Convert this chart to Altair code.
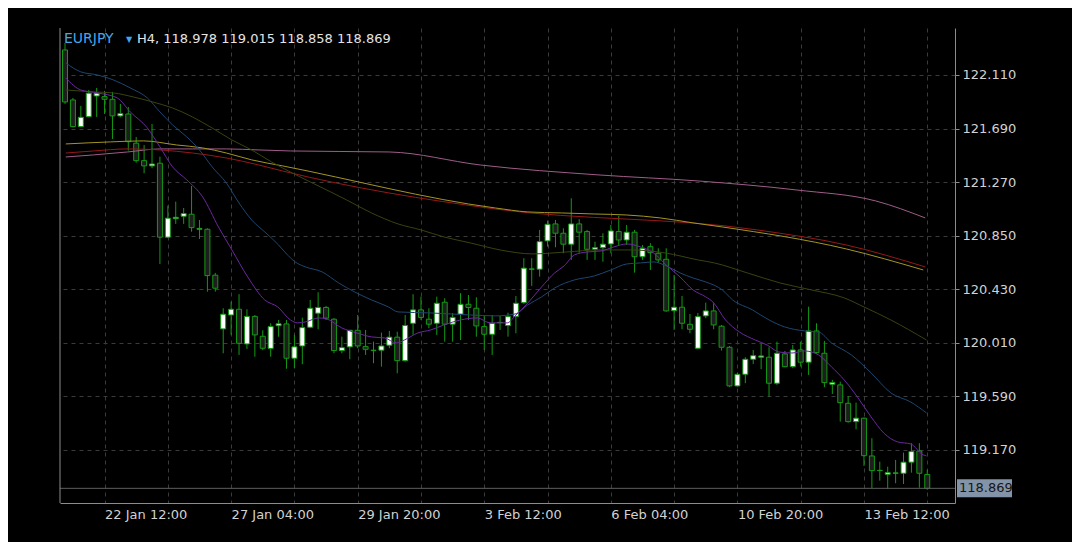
import altair as alt
import pandas as pd

# ---------------- data ----------------
symbol = "EURJPY"
timeframe = "H4"

bar_index = list(range(-5, 105))

opens = [
    122.306, 121.914, 121.705, 121.783, 121.945, 121.940, 121.919, 121.789, 121.804, 121.575,
    121.438, 121.397, 121.418, 120.838, 120.983, 121.002, 121.018, 120.900, 120.900, 120.540,
    120.119, 120.228, 120.273, 120.001, 120.217, 120.061, 119.966, 120.144, 120.158, 119.889,
    119.985, 120.132, 120.242, 120.287, 120.195, 119.949, 119.978, 120.108, 119.980, 119.952,
    119.952, 119.991, 120.054, 119.870, 120.163, 120.268, 120.195, 120.163, 120.328, 120.156,
    120.235, 120.312, 120.281, 120.137, 120.077, 120.168, 120.145, 120.217, 120.325, 120.587,
    120.587, 120.809, 120.942, 120.869, 120.783, 120.942, 120.882, 120.743, 120.756, 120.785,
    120.882, 120.816, 120.877, 120.685, 120.764, 120.712, 120.665, 120.262, 120.289, 120.155,
    119.967, 120.221, 120.260, 120.140, 119.975, 119.672, 119.763, 119.881, 119.897, 119.897,
    119.693, 119.923, 119.823, 119.954, 119.858, 120.103, 119.928, 119.685, 119.680, 119.536,
    119.392, 119.419, 119.123, 119.008, 118.979, 118.987, 118.987, 119.074, 119.162, 118.978,
]
highs = [
    122.361, 121.930, 121.867, 121.992, 122.008, 121.985, 121.977, 121.883, 121.859, 121.624,
    121.561, 121.726, 121.469, 121.085, 121.117, 121.067, 121.240, 120.973, 120.908, 120.558,
    120.281, 120.333, 120.391, 120.273, 120.228, 120.108, 120.163, 120.189, 120.189, 120.072,
    120.207, 120.346, 120.406, 120.299, 120.203, 120.058, 120.111, 120.228, 120.111, 120.019,
    120.090, 120.103, 120.097, 120.228, 120.391, 120.372, 120.281, 120.372, 120.359, 120.242,
    120.399, 120.385, 120.367, 120.221, 120.228, 120.221, 120.246, 120.377, 120.673, 120.673,
    120.895, 120.968, 120.973, 120.908, 121.143, 120.979, 120.895, 120.803, 120.869, 120.934,
    121.005, 120.934, 120.895, 120.777, 120.791, 120.751, 120.751, 120.542, 120.377, 120.236,
    120.244, 120.325, 120.320, 120.150, 119.985, 119.776, 119.897, 119.954, 120.001, 119.975,
    120.019, 119.946, 119.993, 120.019, 120.293, 120.163, 120.025, 119.719, 119.705, 119.593,
    119.541, 119.423, 119.262, 119.078, 119.039, 119.092, 119.149, 119.223, 119.223, 119.015,
]
lows = [
    121.883, 121.698, 121.700, 121.777, 121.781, 121.804, 121.608, 121.778, 121.517, 121.422,
    121.339, 121.379, 120.628, 120.830, 120.942, 120.942, 120.881, 120.824, 120.411, 120.411,
    119.928, 120.072, 119.915, 119.962, 119.901, 119.952, 119.901, 120.058, 119.807, 119.811,
    119.842, 120.124, 120.116, 120.189, 119.928, 119.928, 119.881, 119.967, 119.915, 119.850,
    119.823, 119.967, 119.771, 119.862, 120.072, 120.189, 120.124, 120.072, 120.019, 120.019,
    120.032, 120.189, 120.058, 119.954, 119.915, 120.111, 120.058, 120.085, 120.315, 120.456,
    120.529, 120.764, 120.759, 120.712, 120.660, 120.717, 120.660, 120.660, 120.646, 120.712,
    120.777, 120.777, 120.560, 120.660, 120.581, 120.638, 120.254, 120.111, 120.116, 120.085,
    119.962, 120.203, 120.116, 119.949, 119.664, 119.666, 119.693, 119.844, 119.803, 119.588,
    119.680, 119.818, 119.811, 119.823, 119.758, 119.923, 119.662, 119.609, 119.392, 119.384,
    119.332, 119.045, 118.870, 118.929, 118.864, 118.909, 118.903, 118.992, 118.874, 118.858,
]
closes = [
    121.898, 121.705, 121.778, 121.967, 121.967, 121.919, 121.789, 121.807, 121.587, 121.438,
    121.397, 121.412, 120.838, 120.987, 120.994, 121.023, 120.913, 120.907, 120.537, 120.438,
    120.234, 120.273, 120.006, 120.217, 120.072, 119.967, 120.137, 120.159, 119.889, 119.978,
    120.129, 120.281, 120.287, 120.203, 119.949, 119.972, 120.108, 119.985, 119.959, 119.949,
    119.985, 120.054, 119.870, 120.146, 120.268, 120.209, 120.156, 120.320, 120.156, 120.209,
    120.312, 120.287, 120.142, 120.077, 120.163, 120.170, 120.215, 120.320, 120.595, 120.589,
    120.803, 120.939, 120.869, 120.783, 120.942, 120.877, 120.743, 120.756, 120.783, 120.887,
    120.816, 120.877, 120.685, 120.751, 120.717, 120.660, 120.260, 120.289, 120.163, 120.116,
    120.215, 120.260, 120.150, 119.975, 119.672, 119.763, 119.881, 119.909, 119.907, 119.693,
    119.928, 119.823, 119.954, 119.858, 120.103, 119.933, 119.698, 119.698, 119.541, 119.392,
    119.419, 119.125, 119.008, 119.010, 118.992, 118.990, 119.074, 119.157, 118.987, 118.869,
]

# moving averages (bar position, price)
ma_purple_k = [-4.9, -3, -0.9, 1.6, 3.25, 5.4, 7, 8.6, 10.4, 12.4, 14.4, 16.1, 18.1, 20.25, 21.9,
               23.5, 24.4, 25.4, 27.1, 28.1, 30, 31.9, 33.75, 35.4, 36.9, 37.9, 39.6, 41.25, 42.9,
               45, 47.1, 48.75, 50.9, 51.9, 53.5, 55.25, 56.9, 58.1, 59.4, 61, 62.75, 64.4, 66,
               67.75, 69.4, 71, 72.75, 74.4, 76, 76.9, 78.5, 80.25, 82.25, 83.75, 85.25, 86.9,
               88.5, 90.25, 91.9, 93.5, 95.25, 96.9, 98.5, 100.25, 101.9, 103.5, 103.9]
ma_purple_v = [122.086, 121.992, 121.969, 121.930, 121.820, 121.695, 121.546, 121.389, 121.287,
               121.154, 120.918, 120.738, 120.526, 120.346, 120.291, 120.189, 120.166, 120.174,
               120.205, 120.197, 120.126, 120.087, 120.056, 120.048, 120.009, 120.032, 120.087,
               120.111, 120.150, 120.189, 120.205, 120.166, 120.166, 120.221, 120.322, 120.448,
               120.558, 120.613, 120.699, 120.722, 120.730, 120.762, 120.785, 120.762, 120.714,
               120.620, 120.526, 120.424, 120.370, 120.330, 120.189, 120.095, 120.032, 119.993,
               119.938, 119.930, 119.946, 119.915, 119.821, 119.719, 119.578, 119.429, 119.303,
               119.233, 119.217, 119.131, 119.123]

ma_blue_k = [-4.9, -3, -0.9, 1.1, 3.25, 5.4, 7, 8.6, 10.4, 12, 13.6, 15.4, 17, 18.6, 20.4, 22,
             22.9, 24.1, 25.4, 27.5, 29.6, 31.6, 33.75, 35.9, 37.1, 41.25, 46.25, 49.4, 51.9,
             53.5, 55.25, 56.9, 59.4, 61.9, 64, 66, 67.75, 69.4, 71, 72.75, 74.4, 76, 78.1,
             79.4, 81.9, 84, 86, 88.5, 90.25, 91.9, 94.4, 96.9, 99.4, 101.9, 103.9]
ma_blue_v = [122.204, 122.134, 122.110, 122.071, 122.008, 121.930, 121.820, 121.718, 121.624,
             121.522, 121.389, 121.263, 121.106, 120.973, 120.871, 120.777, 120.714, 120.644,
             120.605, 120.566, 120.479, 120.409, 120.346, 120.291, 120.252, 120.244, 120.228,
             120.221, 120.236, 120.307, 120.370, 120.440, 120.503, 120.534, 120.581, 120.628,
             120.636, 120.644, 120.613, 120.558, 120.518, 120.487, 120.424, 120.346, 120.268,
             120.189, 120.134, 120.103, 120.095, 120.009, 119.915, 119.774, 119.617, 119.546,
             119.460]

ma_olive_k = [-4.9, -1.4, 1.1, 3.6, 6.1, 8.6, 11.1, 13.6, 16.1, 18.6, 21.1, 22.5, 30.6, 33.75,
              37.1, 40, 42.9, 46.25, 50, 54.1, 58.4, 62.5, 66.6, 70.9, 75, 77.1, 81.25, 85.4,
              89.4, 93.5, 96, 99.4, 103.9]
ma_olive_v = [121.992, 121.977, 121.969, 121.938, 121.898, 121.851, 121.781, 121.694, 121.600,
              121.522, 121.428, 121.381, 121.130, 121.028, 120.942, 120.895, 120.840, 120.793,
              120.738, 120.707, 120.722, 120.738, 120.738, 120.714, 120.660, 120.636, 120.558,
              120.479, 120.424, 120.362, 120.291, 120.189, 120.032]

ma_yellow_k = [-4.9, 0.75, 4.9, 9.1, 12.4, 15.4, 18.6, 22.5, 49.4, 53.5, 57.75, 61.9, 66, 70.25,
               74.4, 78.1, 93.75, 103.5]
ma_yellow_v = [121.569, 121.585, 121.593, 121.561, 121.538, 121.498, 121.444, 121.397, 121.067,
               121.036, 121.028, 121.020, 121.012, 120.989, 120.950, 120.918, 120.746, 120.581]

ma_red_k = [-4.9, -1.4, 2.9, 7, 11.1, 15.4, 19.5, 22.5, 49.4, 82.5, 93.75, 103.75]
ma_red_v = [121.498, 121.514, 121.530, 121.522, 121.498, 121.459, 121.404, 121.357, 121.059,
            120.895, 120.777, 120.605]

ma_pink_k = [-4.9, -1.4, 2.9, 7, 11.1, 15.4, 19.5, 23.5, 36, 47.5, 62.5, 75, 87.5, 97.5, 103.75]
ma_pink_v = [121.467, 121.483, 121.506, 121.530, 121.530, 121.530, 121.522, 121.514, 121.506,
             121.404, 121.326, 121.279, 121.208, 121.122, 120.989]

y_ticks = [119.170, 119.590, 120.010, 120.430, 120.850, 121.270, 121.690, 122.110]
x_ticks = list(range(0, 105, 8))
xlabel_pos = [0, 16, 32, 48, 64, 80, 96]
xlabel_text = ["22 Jan 12:00", "27 Jan 04:00", "29 Jan 20:00", "3 Feb 12:00",
               "6 Feb 04:00", "10 Feb 20:00", "13 Feb 12:00"]

# ---------------- chart ----------------
W, H = 895, 475
FONT = "DejaVu Sans"
GREEN = "#139a13"
GRID = "#3b3b3b"
AXIS = "#8c8c8c"
LABEL = "#d2d2d2"

expr = "''"
for p, t in reversed(list(zip(xlabel_pos, xlabel_text))):
    expr = f"datum.value == {p} ? '{t}' : ({expr})"

xs = alt.Scale(domain=[-5, 106.875], nice=False, zero=False)
ys = alt.Scale(domain=[118.754, 122.478], nice=False, zero=False)

x_axis = alt.Axis(values=x_ticks, labelExpr=expr, labelAlign="left", labelColor=LABEL,
                  labelFont=FONT, labelFontSize=13, labelPadding=5, ticks=False,
                  domainColor=AXIS, grid=True, gridColor=GRID, gridDash=[4, 4],
                  labelOverlap=False, labelBound=False, labelFlush=False, title=None)
y_axis = alt.Axis(orient="right", values=y_ticks, format=".3f", labelColor=LABEL,
                  labelFont=FONT, labelFontSize=13, labelPadding=3, tickSize=4,
                  tickColor=AXIS, domainColor=AXIS, grid=True, gridColor=GRID,
                  gridDash=[4, 4], labelOverlap=False, title=None)


def X(field):
    return alt.X(field, type="quantitative", scale=xs, axis=x_axis)


def Y(field):
    return alt.Y(field, type="quantitative", scale=ys, axis=y_axis)


candles = pd.DataFrame({"k": bar_index, "open": opens, "high": highs,
                        "low": lows, "close": closes})

wicks = alt.Chart(candles).mark_rule(color=GREEN, strokeWidth=1).encode(
    x=X("k"), y=Y("low"), y2="high")

bodies = alt.Chart(candles).mark_bar(size=5, stroke=GREEN, strokeWidth=1).encode(
    x=X("k"), y=Y("open"), y2="close",
    fill=alt.condition("datum.close >= datum.open", alt.value("#ffffff"), alt.value("#1e1e1e")))

ma_specs = [
    (ma_pink_k, ma_pink_v, "#a05c88"),
    (ma_red_k, ma_red_v, "#951818"),
    (ma_yellow_k, ma_yellow_v, "#a39424"),
    (ma_olive_k, ma_olive_v, "#38440f"),
    (ma_blue_k, ma_blue_v, "#1d4670"),
    (ma_purple_k, ma_purple_v, "#6a289e"),
]
ma_layers = []
for ks, vs, col in ma_specs:
    df = pd.DataFrame({"k": ks, "price": vs})
    ma_layers.append(
        alt.Chart(df).mark_line(color=col, strokeWidth=1, clip=True,
                                interpolate="monotone").encode(
            x=X("k"), y=Y("price")))

last = pd.DataFrame({"price": [closes[-1]]})
price_line = alt.Chart(last).mark_rule(color="#5e5e5e", strokeWidth=1).encode(y=Y("price"))
price_box = alt.Chart(last).mark_rule(color="#8494a8", strokeWidth=18, strokeCap="butt").encode(
    y=Y("price"), x=alt.value(W + 2), x2=alt.value(W + 57))
price_txt = alt.Chart(last).mark_text(align="left", baseline="middle", font=FONT, fontSize=13,
                                      color="#161616").encode(
    y=Y("price"), x=alt.value(W + 4), text=alt.Text("price:Q", format=".3f"))

left_border = alt.Chart(pd.DataFrame({"a": [0]})).mark_rule(color=AXIS, strokeWidth=1).encode(
    x=alt.value(0), y=alt.value(0), y2=alt.value(H))

header_df = pd.DataFrame({
    "sym": [symbol],
    "info": [f"{timeframe}, {opens[-1]:.3f} {highs[-1]:.3f} {lows[-1]:.3f} {closes[-1]:.3f}"],
})
head_sym = alt.Chart(header_df).mark_text(align="left", baseline="middle", font=FONT,
                                          fontSize=14, color="#45a6ea").encode(
    x=alt.value(4), y=alt.value(11), text="sym:N")
head_arrow = alt.Chart(header_df).mark_text(align="left", baseline="middle", font=FONT,
                                            fontSize=8, color="#45a6ea").encode(
    x=alt.value(66), y=alt.value(12), text=alt.value("▼"))
head_info = alt.Chart(header_df).mark_text(align="left", baseline="middle", font=FONT,
                                           fontSize=13, color="#e4e4e4").encode(
    x=alt.value(77), y=alt.value(11), text="info:N")

chart = alt.layer(
    wicks, bodies, *ma_layers, price_line, price_box, price_txt, left_border,
    head_sym, head_arrow, head_info,
).properties(
    width=W, height=H, background="#000000",
    autosize=alt.AutoSizeParams(type="none"),
    padding={"left": 52, "top": 20, "right": 117, "bottom": 39},
).configure_view(strokeWidth=0)

chart.save("out.html", embed_options={"renderer": "svg", "actions": False})
